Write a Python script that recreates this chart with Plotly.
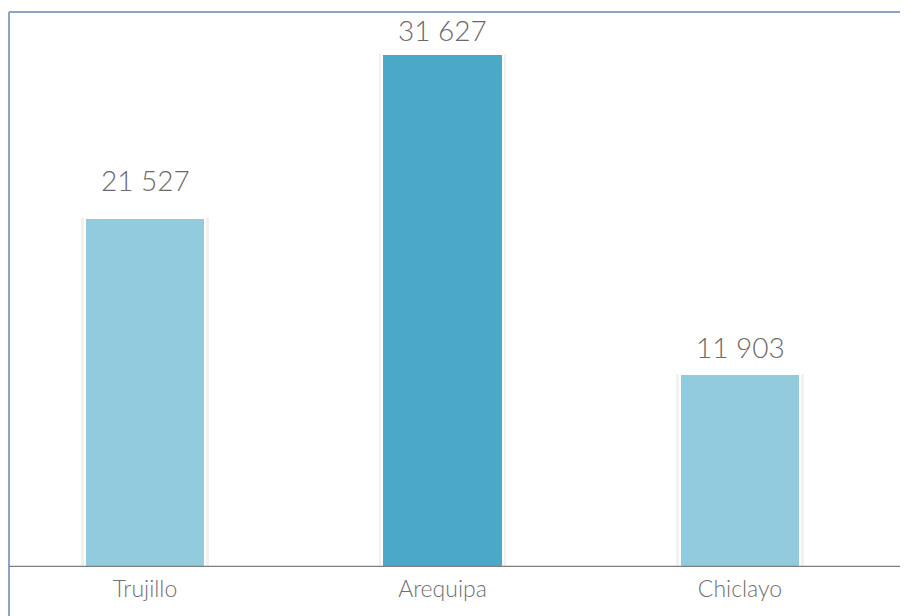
import plotly.graph_objects as go

categories = ["Trujillo", "Arequipa", "Chiclayo"]
values = [21527, 31627, 11903]
value_labels = ["21 527", "31 627", "11 903"]
bar_colors = ["#93CBDE", "#4BA8C7", "#93CBDE"]

W, H = 908, 616
plot_bottom = 57
plot_h = H - plot_bottom
label_shift = [19, 5, 8]

fig = go.Figure()
# soft shadow behind bars
fig.add_trace(go.Bar(
    x=categories, y=values, width=0.43,
    marker=dict(color="rgba(120,120,120,0.10)", line=dict(width=0)),
    hoverinfo="skip", showlegend=False,
))
fig.add_trace(go.Bar(
    x=categories, y=values, width=0.405,
    marker=dict(color=bar_colors, line=dict(color="white", width=2)),
    showlegend=False,
))

for c, v, t, s in zip(categories, values, value_labels, label_shift):
    fig.add_annotation(x=c, y=v, text=t, showarrow=False, yanchor="bottom",
                       yshift=s, font=dict(size=28, color="#6a6a6a", family="Lato", weight=300))

fig.update_layout(
    width=W, height=H,
    margin=dict(l=0, r=0, t=0, b=plot_bottom),
    paper_bgcolor="white", plot_bgcolor="white",
    barmode="overlay", bargap=0,
    xaxis=dict(
        type="category", range=[-0.4605, 2.5916],
        showgrid=False, zeroline=False, showline=False,
        ticks="outside", ticklen=1, tickcolor="rgba(0,0,0,0)",
        tickfont=dict(size=23, color="#707070", family="Lato", weight=300),
    ),
    yaxis=dict(range=[0, 34474], visible=False, showgrid=False),
    shapes=[
        # frame
        dict(type="line", xref="paper", yref="paper", x0=1/W, x1=1.0, y0=1 - 4/plot_h, y1=1 - 4/plot_h,
             line=dict(color="#8FA3C2", width=2)),
        dict(type="line", xref="paper", yref="paper", x0=1/W, x1=1/W, y0=1 - 4/plot_h, y1=-plot_bottom/plot_h - 0.01,
             line=dict(color="#8FA3C2", width=2)),
        # baseline
        dict(type="line", xref="paper", yref="y", x0=1/W, x1=1.0, y0=0, y1=0,
             line=dict(color="#7f7f7f", width=2.5)),
    ],
)

fig.write_html("out.html")
